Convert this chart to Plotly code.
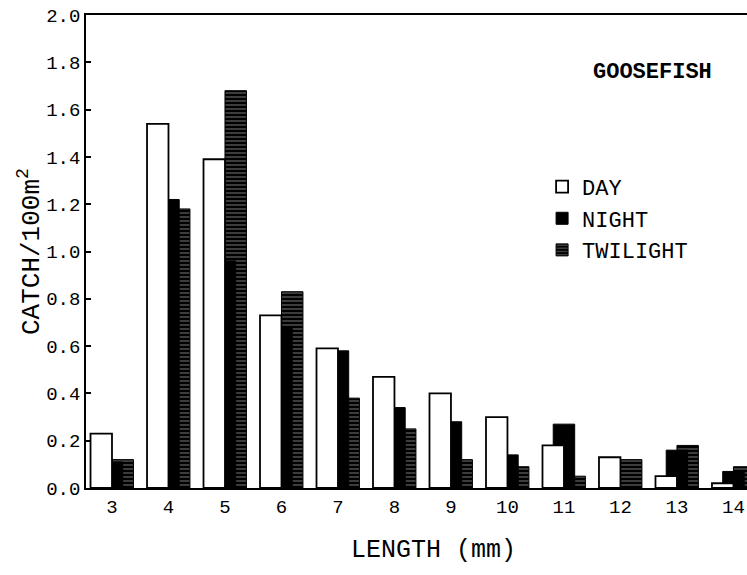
import plotly.graph_objects as go

# Length classes (mm) and catch per 100 m^2 by time of day
lengths = [3, 4, 5, 6, 7, 8, 9, 10, 11, 12, 13, 14]
day = [0.23, 1.54, 1.39, 0.73, 0.59, 0.47, 0.40, 0.30, 0.18, 0.13, 0.05, 0.02]
night = [0.11, 1.22, 0.96, 0.68, 0.58, 0.34, 0.28, 0.14, 0.27, 0.00, 0.16, 0.07]
twilight = [0.12, 1.18, 1.68, 0.83, 0.38, 0.25, 0.12, 0.09, 0.05, 0.12, 0.18, 0.09]

y_ticks = [0.0, 0.2, 0.4, 0.6, 0.8, 1.0, 1.2, 1.4, 1.6, 1.8, 2.0]

FONT = "Liberation Mono"
BAR_W = 0.38

# Plot-area geometry in pixels, used to place free text
W, H = 747, 575
L, R, T, B = 86, 0, 15, 87
PW, PH = W - L - R, H - T - B


def px_x(px):
    return (px - L) / PW


def px_y(py):
    return (H - B - py) / PH


fig = go.Figure()

# Overlapping bars: twilight at the back, night in the middle, day in front
fig.add_trace(go.Bar(
    x=lengths, y=twilight, name="TWILIGHT", width=BAR_W, offset=0,
    marker=dict(color="black", line=dict(color="black", width=1),
                pattern=dict(shape="-", fgcolor="#c8c8c8", size=4, solidity=0.3)),
    legendgroup="t",
))
fig.add_trace(go.Bar(
    x=lengths, y=night, name="NIGHT", width=BAR_W, offset=-BAR_W / 2,
    marker=dict(color="black", line=dict(color="black", width=1)),
    legendgroup="n",
))
fig.add_trace(go.Bar(
    x=lengths, y=day, name="DAY", width=BAR_W, offset=-BAR_W,
    marker=dict(color="white", line=dict(color="black", width=1.8)),
    legendgroup="d",
))

fig.update_layout(
    width=W, height=H,
    margin=dict(l=L, r=R, t=T, b=B),
    barmode="overlay",
    plot_bgcolor="white", paper_bgcolor="white",
    font=dict(family=FONT, color="black", size=19),
    showlegend=True,
    legend=dict(
        x=0.69, y=0.681, xanchor="left", yanchor="top",
        traceorder="reversed", tracegroupgap=7,
        font=dict(family=FONT, size=22, color="black"),
        bgcolor="rgba(0,0,0,0)",
    ),
    annotations=[
        dict(text="<b>GOOSEFISH</b>", x=px_x(652), y=px_y(72),
             xref="paper", yref="paper", xanchor="center", yanchor="middle",
             showarrow=False, font=dict(family=FONT, size=22, color="black")),
        dict(text="LENGTH (mm)", x=px_x(433), y=px_y(550),
             xref="paper", yref="paper", xanchor="center", yanchor="middle",
             showarrow=False, font=dict(family=FONT, size=25, color="black")),
        dict(text="CATCH/100m<sup>2</sup>", x=px_x(30), y=px_y(252),
             xref="paper", yref="paper", xanchor="center", yanchor="middle",
             textangle=-90, showarrow=False,
             font=dict(family=FONT, size=26, color="black")),
    ],
)

fig.update_xaxes(
    range=[2.54, 14.24],
    tickmode="array", tickvals=lengths, ticktext=[str(v) for v in lengths],
    ticks="", showline=True, linecolor="black", linewidth=1.5, mirror=True,
    showgrid=False, zeroline=False,
    tickfont=dict(family=FONT, size=19),
)
fig.update_yaxes(
    range=[0, 2.0],
    tickmode="array", tickvals=y_ticks, ticktext=[f"{v:.1f}" for v in y_ticks],
    ticks="inside", ticklen=5, tickwidth=1.5, tickcolor="black",
    showline=True, linecolor="black", linewidth=1.5, mirror=False,
    showgrid=False, zeroline=False,
    tickfont=dict(family=FONT, size=19),
)

fig.write_html("out.html")
